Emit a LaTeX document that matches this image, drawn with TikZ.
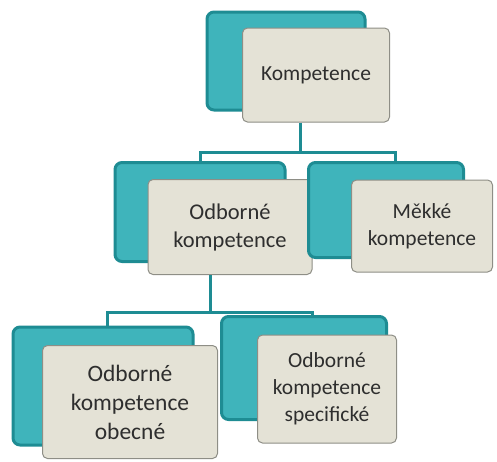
\documentclass[tikz,border=0pt]{standalone}
\usepackage{fontspec}
\setmainfont{Carlito}
\usepackage{xcolor}
\usetikzlibrary{calc}
\definecolor{tealrim}{HTML}{1E8C93}
\definecolor{tealfill}{HTML}{3FB4BB}
\definecolor{cardfill}{HTML}{E4E2D6}
\definecolor{cardline}{HTML}{8E8E86}
\definecolor{inktext}{HTML}{2E2E2E}
\tikzset{
    back/.style={draw=tealrim, line width=3pt, fill=tealfill, rounded corners=7pt, inner sep=0pt},
    card/.style={draw=cardline, line width=1pt, fill=cardfill, rounded corners=5pt, inner sep=0pt,
        align=center, text=inktext, font=\fontsize{21.5}{27}\selectfont},
    big/.style={font=\fontsize{23.5}{29}\selectfont},
    conn/.style={draw=tealrim, line width=3pt}
}
\begin{document}
\begin{tikzpicture}[x=1pt, y=-1pt]
        \useasboundingbox (0,0) rectangle (497,461);

        % top level
        \node[back, minimum width=158pt, minimum height=98pt] (topb) at (286,61) {};
        \node[card, minimum width=147pt, minimum height=94pt] (topf) at (316,75) {Kompetence};

        % second level
        \node[back, minimum width=170pt, minimum height=99pt] (odbb) at (200,212) {};
        \node[card, font=\fontsize{22.5}{28}\selectfont, minimum width=164pt, minimum height=95pt] (odbf) at (230,227) {Odborné\\kompetence};
        \node[back, minimum width=155pt, minimum height=95pt] (mekb) at (386,210) {};
        \node[card, minimum width=141pt, minimum height=92pt] (mekf) at (422,226) {Měkké\\kompetence};

        % third level
        \node[back, minimum width=180pt, minimum height=118pt] (obeb) at (103,386) {};
        \node[card, big, minimum width=175pt, minimum height=113pt] (obef) at (130,402) {Odborné\\kompetence\\obecné};
        \node[back, minimum width=165pt, minimum height=103pt] (speb) at (304,368) {};
        \node[card, minimum width=139pt, minimum height=108pt] (spef) at (327,389) {Odborné\\kompetence\\specifické};

        % connectors
        \coordinate (bus1) at (300,152);
        \coordinate (bus2) at (210,312);
        \draw[conn] (bus1 |- topf.south) -- (bus1);
        \draw[conn] (bus1) -| (odbb.north);
        \draw[conn] (bus1) -| ($(mekb.north)+(9,0)$);
        \draw[conn] (bus2 |- odbf.south) -- (bus2);
        \draw[conn] (bus2) -| ($(obeb.north)+(4,0)$);
        \draw[conn] (bus2) -| ($(speb.north)+(8,0)$);

\end{tikzpicture}
\end{document}
